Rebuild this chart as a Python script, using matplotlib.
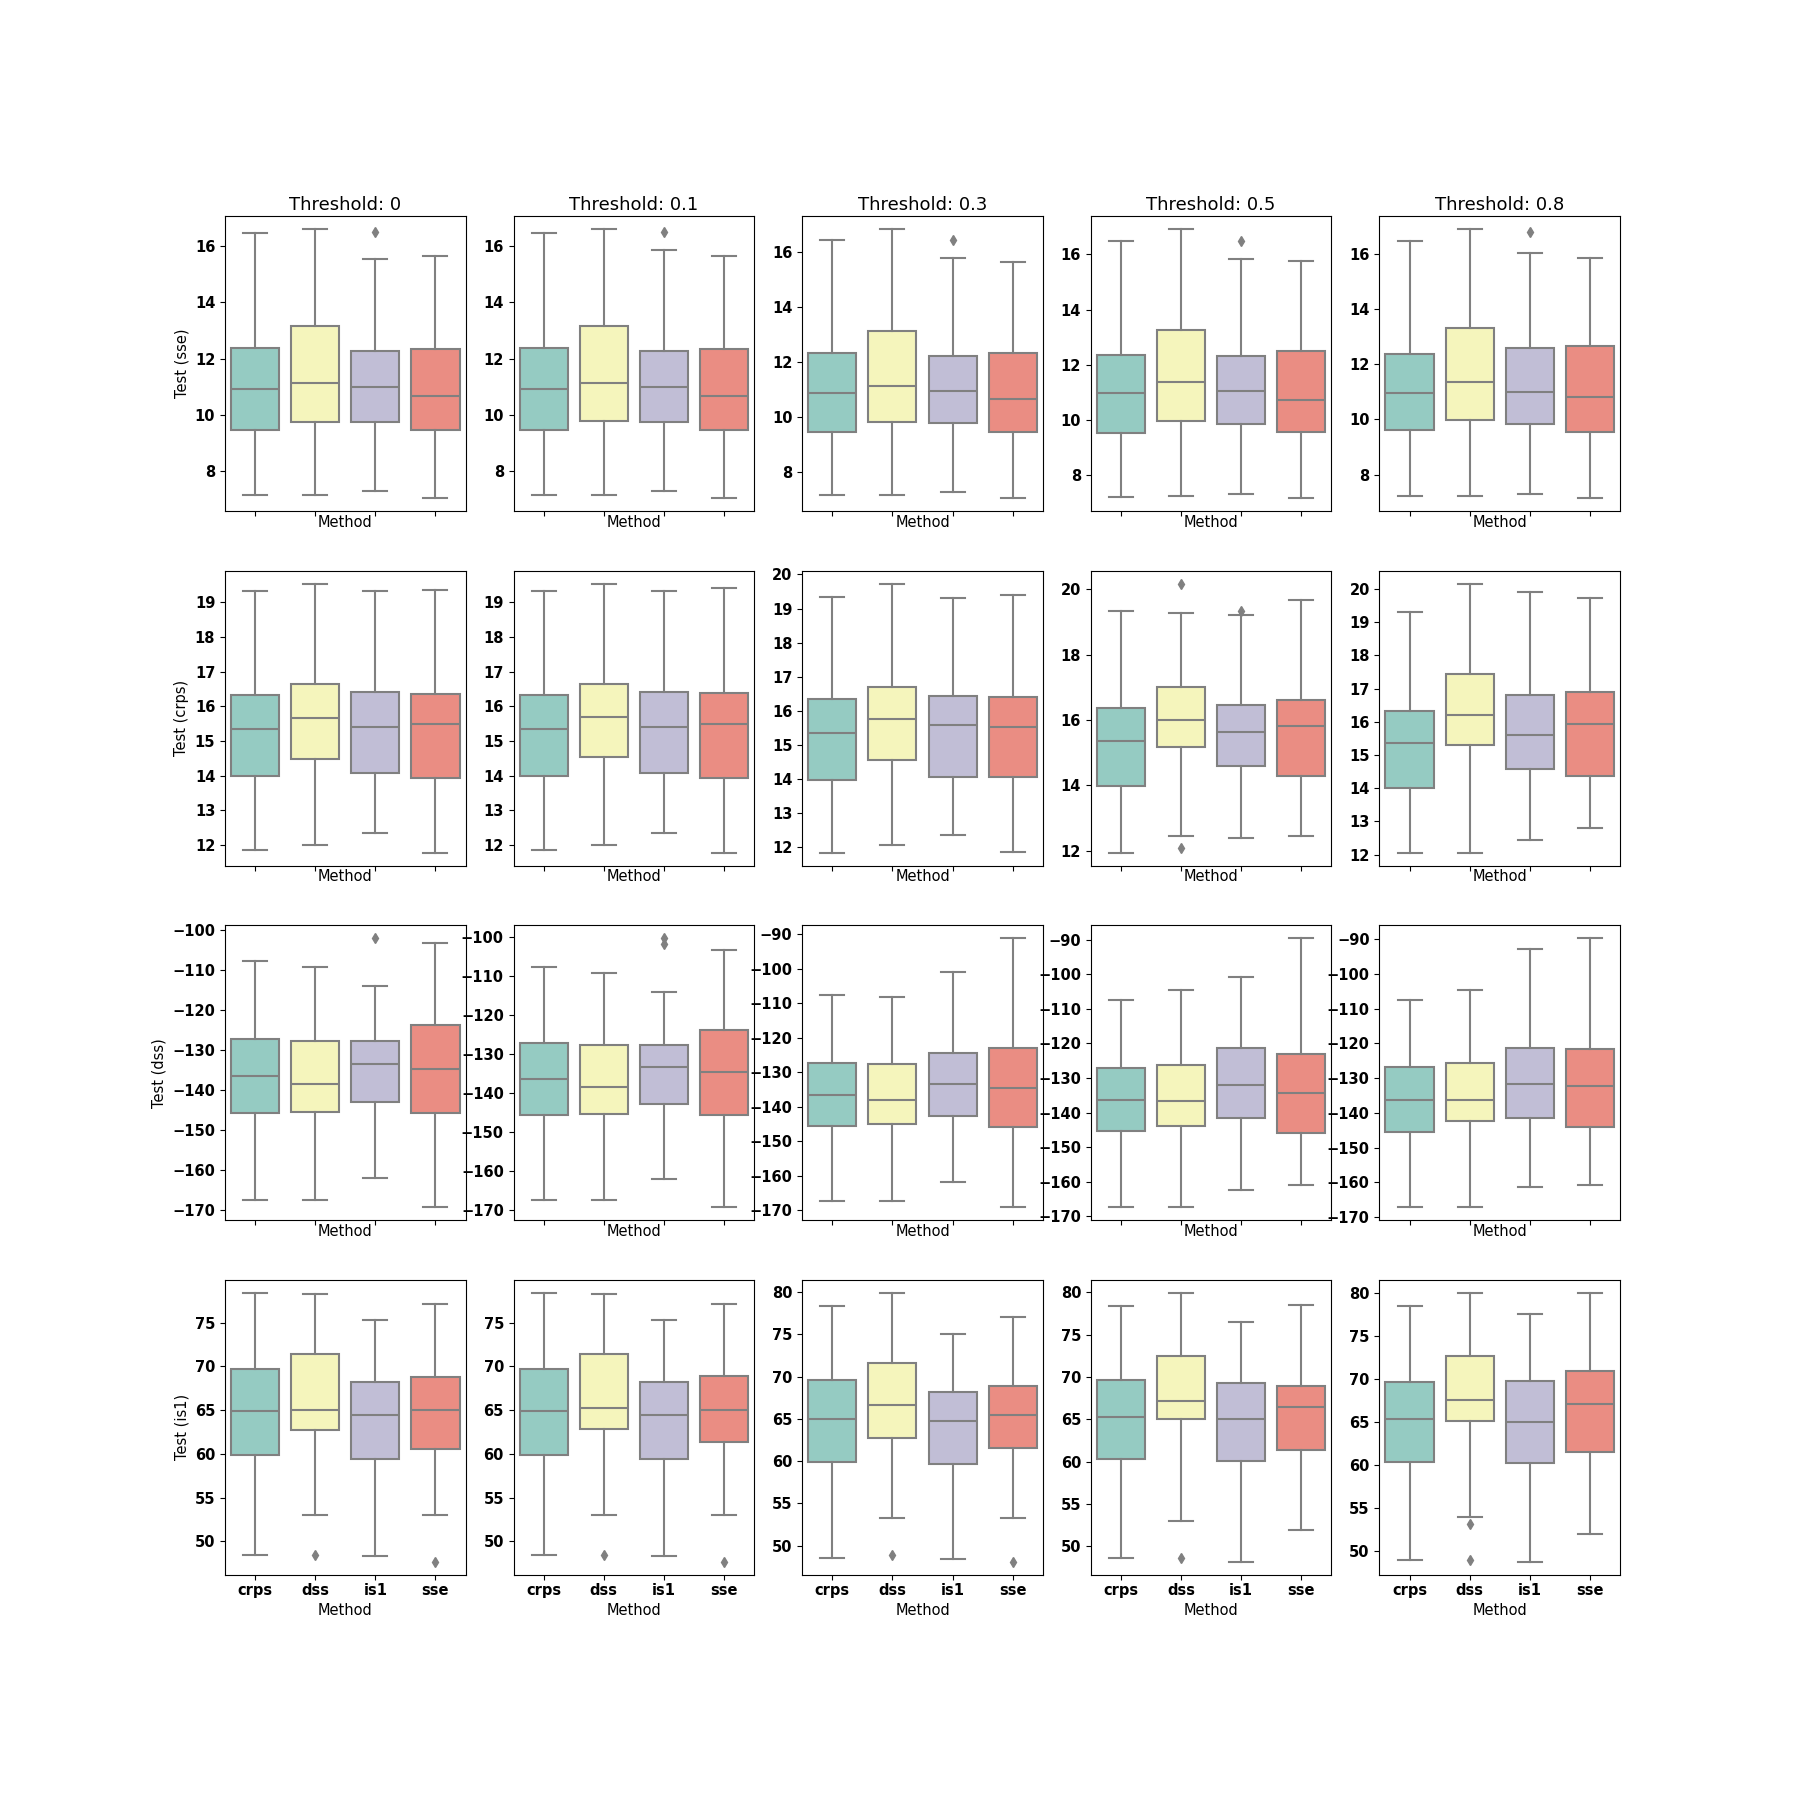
import matplotlib
matplotlib.use("Agg")
import matplotlib.pyplot as plt
from matplotlib.ticker import MaxNLocator

# methods on the x axis, thresholds across columns
methods = ['crps', 'dss', 'is1', 'sse']
thresholds = ['0', '0.1', '0.3', '0.5', '0.8']
metrics = ['sse', 'crps', 'dss', 'is1']

# box stats: one row per threshold, one value per method
sse_lo = [[7.16, 7.16, 7.29, 7.04], [7.16, 7.16, 7.29, 7.04], [7.17, 7.17, 7.29, 7.06],
          [7.19, 7.23, 7.30, 7.15], [7.21, 7.21, 7.28, 7.15]]
sse_q1 = [[9.47, 9.75, 9.75, 9.47], [9.47, 9.79, 9.75, 9.47], [9.46, 9.83, 9.79, 9.46],
          [9.51, 9.94, 9.84, 9.55], [9.61, 9.97, 9.82, 9.54]]
sse_med = [[10.91, 11.14, 10.98, 10.66], [10.91, 11.14, 10.98, 10.66], [10.88, 11.13, 10.96, 10.67],
           [10.96, 11.38, 11.03, 10.71], [10.95, 11.37, 11.01, 10.81]]
sse_q3 = [[12.38, 13.15, 12.26, 12.36], [12.38, 13.15, 12.26, 12.36], [12.33, 13.13, 12.21, 12.33],
          [12.36, 13.27, 12.30, 12.50], [12.36, 13.33, 12.58, 12.66]]
sse_hi = [[16.49, 16.60, 15.53, 15.67], [16.49, 16.60, 15.85, 15.67], [16.46, 16.83, 15.79, 15.63],
          [16.50, 16.91, 15.85, 15.75], [16.48, 16.89, 16.03, 15.85]]
sse_out = [[[], [], [16.50], []], [[], [], [16.50], []], [[], [], [16.46], []],
           [[], [], [16.50], []], [[], [], [16.80], []]]

crps_lo = [[11.87, 12.02, 12.36, 11.79], [11.87, 12.02, 12.36, 11.79], [11.85, 12.07, 12.35, 11.88],
           [11.94, 12.46, 12.37, 12.46], [12.06, 12.06, 12.43, 12.79]]
crps_q1 = [[13.98, 14.49, 14.07, 13.93], [13.98, 14.55, 14.07, 13.93], [13.97, 14.55, 14.07, 14.05],
           [13.98, 15.17, 14.59, 14.28], [14.01, 15.29, 14.57, 14.38]]
crps_med = [[15.35, 15.67, 15.41, 15.49], [15.35, 15.70, 15.41, 15.49], [15.35, 15.75, 15.60, 15.52],
            [15.34, 16.01, 15.62, 15.81], [15.35, 16.19, 15.59, 15.92]]
crps_q3 = [[16.33, 16.64, 16.40, 16.35], [16.33, 16.64, 16.40, 16.37], [16.35, 16.70, 16.43, 16.40],
           [16.35, 17.02, 16.45, 16.62], [16.33, 17.44, 16.81, 16.90]]
crps_hi = [[19.32, 19.52, 19.32, 19.34], [19.32, 19.52, 19.32, 19.40], [19.33, 19.72, 19.32, 19.40],
           [19.33, 19.28, 19.22, 19.68], [19.31, 20.15, 19.91, 19.73]]
crps_out = [[[], [], [], []], [[], [], [], []], [[], [], [], []],
            [[], [20.16, 12.07], [19.34], []], [[], [], [], []]]

dss_lo = [[-167.5, -167.5, -162.0, -169.25], [-167.5, -167.5, -162.0, -169.25], [-167.2, -167.2, -161.8, -169.05],
          [-167.3, -167.3, -162.3, -161.0], [-167.1, -167.1, -161.2, -160.65]]
dss_q1 = [[-145.75, -145.4, -142.9, -145.75], [-145.75, -145.4, -142.9, -145.75], [-145.5, -145.0, -142.6, -145.8],
          [-145.4, -144.0, -141.7, -146.0], [-145.5, -142.3, -141.4, -144.2]]
dss_med = [[-136.4, -138.5, -133.4, -134.7], [-136.4, -138.5, -133.4, -134.7], [-136.5, -137.9, -133.4, -134.5],
           [-136.5, -136.7, -132.0, -134.3], [-136.3, -136.3, -131.7, -132.3]]
dss_q3 = [[-127.25, -127.75, -127.75, -123.75], [-127.25, -127.75, -127.75, -123.75], [-127.3, -127.6, -124.4, -123.0],
          [-127.1, -126.3, -121.3, -123.0], [-126.9, -125.7, -121.2, -121.5]]
dss_hi = [[-107.7, -109.25, -114.0, -103.25], [-107.7, -109.25, -114.0, -103.25], [-107.66, -108.1, -101.0, -91.2],
          [-107.45, -104.7, -100.7, -89.7], [-107.6, -104.7, -92.7, -89.8]]
dss_out = [[[], [], [-102.1], []], [[], [], [-100.4, -101.8], []], [[], [], [], []],
           [[], [], [], []], [[], [], [], []]]

is1_lo = [[48.47, 53.05, 48.28, 53.05], [48.47, 53.05, 48.28, 53.05], [48.5, 53.2, 48.4, 53.2],
          [48.6, 53.0, 48.2, 51.9], [48.91, 53.95, 48.72, 51.98]]
is1_q1 = [[59.85, 62.75, 59.47, 60.61], [59.85, 62.8, 59.47, 61.4], [59.9, 62.7, 59.6, 61.5],
          [60.3, 65.0, 60.1, 61.4], [60.35, 65.12, 60.23, 61.51]]
is1_med = [[64.96, 65.08, 64.43, 65.08], [64.96, 65.3, 64.43, 65.08], [64.96, 66.6, 64.7, 65.5],
           [65.3, 67.2, 65.0, 66.5], [65.31, 67.56, 64.96, 67.09]]
is1_q3 = [[69.69, 71.37, 68.24, 68.85], [69.69, 71.37, 68.24, 68.95], [69.6, 71.6, 68.2, 68.9],
          [69.6, 72.5, 69.3, 68.9], [69.61, 72.64, 69.73, 70.89]]
is1_hi = [[78.4, 78.3, 75.27, 77.14], [78.4, 78.3, 75.27, 77.14], [78.4, 79.9, 75.1, 77.0],
          [78.4, 79.9, 76.5, 78.5], [78.49, 80.0, 77.56, 80.0]]
is1_out = [[[], [48.4], [], [47.7]], [[], [48.4], [], [47.7]], [[], [48.9], [], [48.1]],
           [[], [48.6], [], []], [[], [53.06, 48.88], [], []]]

stats_by_metric = {
    'sse': (sse_lo, sse_q1, sse_med, sse_q3, sse_hi, sse_out),
    'crps': (crps_lo, crps_q1, crps_med, crps_q3, crps_hi, crps_out),
    'dss': (dss_lo, dss_q1, dss_med, dss_q3, dss_hi, dss_out),
    'is1': (is1_lo, is1_q1, is1_med, is1_q3, is1_hi, is1_out),
}

# Set3 palette, desaturated like seaborn's default boxplot
colors = ['#95cbc2', '#f5f5bc', '#c1bed6', '#ea8d83']
gray = '#808080'

fig, axes = plt.subplots(4, 5, figsize=(18, 18), dpi=100, sharex=True)
fig.subplots_adjust(left=0.125, right=0.9, bottom=0.125, top=0.88, wspace=0.2, hspace=0.2)

for r, metric in enumerate(metrics):
    lo, q1, med, q3, hi, out = stats_by_metric[metric]
    for c, thr in enumerate(thresholds):
        ax = axes[r, c]
        bstats = []
        for m in range(len(methods)):
            bstats.append({'whislo': lo[c][m], 'q1': q1[c][m], 'med': med[c][m],
                           'q3': q3[c][m], 'whishi': hi[c][m], 'fliers': out[c][m]})
        bp = ax.bxp(bstats, positions=range(len(methods)), widths=0.8, patch_artist=True,
                    boxprops=dict(edgecolor=gray, linewidth=1.5),
                    medianprops=dict(color=gray, linewidth=1.5),
                    whiskerprops=dict(color=gray, linewidth=1.5),
                    capprops=dict(color=gray, linewidth=1.5),
                    flierprops=dict(marker='d', markerfacecolor=gray, markeredgecolor=gray,
                                    markersize=5, linestyle='none'))
        for patch, col in zip(bp['boxes'], colors):
            patch.set_facecolor(col)
        ax.set_xlim(-0.5, len(methods) - 0.5)
        ax.set_xticks(range(len(methods)))
        ax.set_xticklabels(methods)
        ax.yaxis.set_major_locator(MaxNLocator(nbins=9, steps=[1, 2, 2.5, 5, 10]))
        ax.tick_params(axis='x', pad=2.5)
        if r == len(metrics) - 1:
            ax.set_xlabel('Method', fontsize=10.5, labelpad=3)
        else:
            ax.set_xlabel('Method', fontsize=10.5, labelpad=-1)
        if c == 0:
            ax.set_ylabel('Test (%s)' % metric, fontsize=10.5)
        if r == 0:
            ax.set_title('Threshold: %s' % thr, fontsize=13, pad=4.5)
        ax.tick_params(labelsize=10.5)
        for lab in ax.get_xticklabels() + ax.get_yticklabels():
            lab.set_fontweight('bold')

plt.savefig('out.png', dpi=100)
